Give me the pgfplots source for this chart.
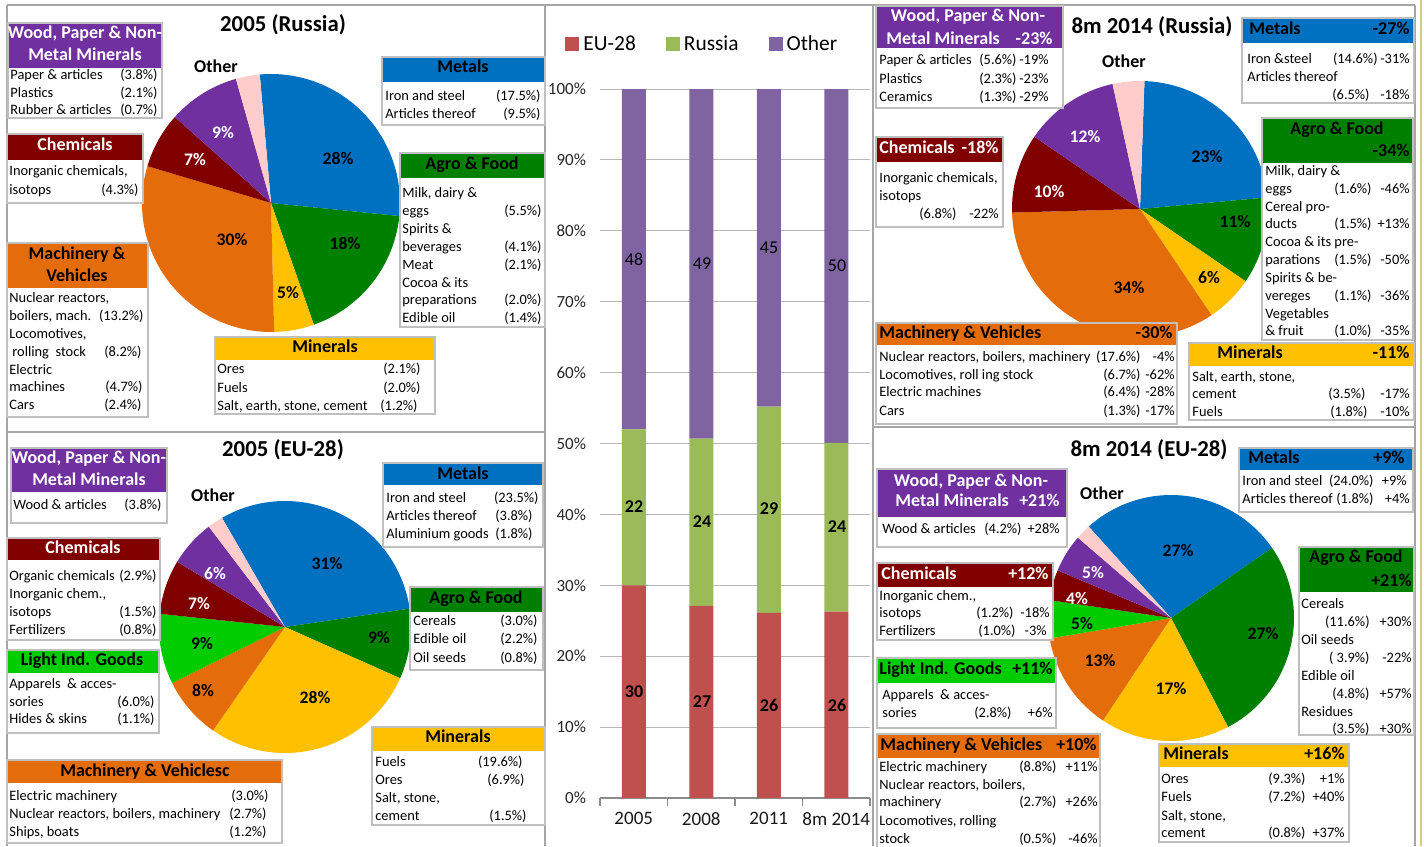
\documentclass[border=0pt]{standalone}
\usepackage{pgfplots}
\pgfplotsset{compat=1.18}
\usepackage{pgfplotstable}
\usepackage{fontspec}
\setmainfont{Carlito}
\definecolor{cMet}{HTML}{0070C0}
\definecolor{cAgro}{HTML}{008000}
\definecolor{cMin}{HTML}{FFC000}
\definecolor{cMach}{HTML}{E46C0A}
\definecolor{cChem}{HTML}{800000}
\definecolor{cWood}{HTML}{7030A0}
\definecolor{cOth}{HTML}{FFCCCC}
\definecolor{cLight}{HTML}{00CC00}
\definecolor{cEU}{HTML}{C0504D}
\definecolor{cRU}{HTML}{9BBB59}
\definecolor{cOT}{HTML}{8064A2}
\definecolor{bline}{HTML}{BFBFBF}
\definecolor{fline}{HTML}{A6A6A6}
\definecolor{oline}{HTML}{D2CF7A}

\pgfplotstableread{
x eu ru ot
0 30.0 22.0 48.0
1 27.1 23.6 49.3
2 26.1 29.1 44.8
3 26.3 23.8 49.9
}\bardata

\newcommand\startpie[1]{\xdef\runang{#1}}
\newcommand\slice[2]{%
  \pgfmathsetmacro\sA{\runang}%
  \pgfmathsetmacro\sB{\runang-(#2)*3.6}%
  \edef\doslice{\noexpand\addplot[fill=#1,draw=none,domain=\sB:\sA,samples=60] ({cos(x)},{sin(x)}) -- (axis cs:0,0) -- cycle;}%
  \doslice
  \xdef\runang{\sB}}
\pgfplotsset{pieax/.style={anchor=center, scale only axis, hide axis, xmin=-1,xmax=1,ymin=-1,ymax=1, clip=false}}

\tikzset{tx/.style={font=\fontsize{7.2}{9}\selectfont, inner sep=0pt, text height=5.2pt, text depth=1.6pt},
 hd/.style={font=\bfseries\fontsize{9}{11}\selectfont, inner sep=0pt, text height=6.4pt, text depth=1.9pt}}
\newcommand\HB[6]{\fill[white] (#2,#5) rectangle (#4,#6); \fill[#1] (#2,#3) rectangle (#4,#5); \draw[bline,line width=0.6pt] (#2,#3) rectangle (#4,#6);}
\newcommand\hC[4]{\node[hd,text=#3,anchor=center] at (#1,#2) {#4};}
\newcommand\hL[4]{\node[hd,text=#3,anchor=west] at (#1,#2) {#4};}
\newcommand\hR[4]{\node[hd,text=#3,anchor=east] at (#1,#2) {#4};}
\newcommand\tL[3]{\node[tx,anchor=west] at (#1,#2) {#3};}
\newcommand\tR[3]{\node[tx,anchor=east] at (#1,#2) {#3};}
\newcommand\pl[4]{\node[font=\bfseries\fontsize{8.8}{10}\selectfont,text=#3] at (#1,#2) {#4};}
\newcommand\bv[3]{\node[font=\bfseries\fontsize{9}{10}\selectfont] at (#1,#2) {#3};}
\newcommand\ov[3]{\node[font=\fontsize{9}{10}\selectfont] at (#1,#2) {#3};}
\newcommand\ttl[3]{\node[font=\bfseries\fontsize{11.4}{13}\selectfont] at (#1,#2) {#3};}
\newcommand\oth[2]{\node[font=\bfseries\fontsize{9}{10}\selectfont] at (#1,#2) {Other};}

\begin{document}
\begin{tikzpicture}
\path[use as bounding box] (0,0) rectangle (712pt,-423pt);

% ---------- bar chart ----------
\begin{axis}[at={(300pt,-399pt)}, anchor=south west, scale only axis, width=135pt, height=354.5pt,
 ybar stacked, bar width=12pt, xmin=-0.5, xmax=3.5, ymin=0, ymax=100,
 xtick={0,1,2,3}, xticklabels={2005,2008,2011,8m 2014},
 ytick={0,10,20,30,40,50,60,70,80,90,100},
 yticklabels={0\%,10\%,20\%,30\%,40\%,50\%,60\%,70\%,80\%,90\%,100\%},
 ymajorgrids, grid style={draw=gray!55, line width=0.5pt},
 axis x line*=bottom, axis y line*=left, y axis line style={draw=none},
 x axis line style={draw=gray!90, line width=0.6pt},
 xtick style={draw=none}, ytick style={draw=none},
 extra x ticks={-0.5,0.5,1.5,2.5,3.5}, extra x tick labels={},
 extra x tick style={grid=none, tick align=outside, major tick length=4pt, xtick style={draw=gray!90, line width=0.6pt}},
 yticklabel style={font=\fontsize{8.5}{10}\selectfont, text=black!85, xshift=-3.5pt},
 xticklabel style={font=\fontsize{9.5}{11}\selectfont, text=black!90, yshift=-3.5pt},
 legend style={at={(0.383,1.063)}, anchor=center, draw=none, fill=none, legend columns=3,
   font=\fontsize{10.7}{12}\selectfont, /tikz/every even column/.append style={column sep=13pt}},
 legend image code/.code={\draw[#1,/tikz/.cd,draw=none] (0pt,-3.5pt) rectangle (7pt,3.5pt);},
]
\addplot[fill=cEU, draw=none] table[x=x,y=eu]{\bardata};
\addplot[fill=cRU, draw=none] table[x=x,y=ru]{\bardata};
\addplot[fill=cOT, draw=none] table[x=x,y=ot]{\bardata};
\legend{EU-28,Russia,Other}
\end{axis}

% ---------- pies ----------
\begin{axis}[pieax, at={(135.5pt,-101.5pt)}, width=129pt, height=129pt]
\startpie{95}
\slice{cMet}{28}\slice{cAgro}{18}\slice{cMin}{5}\slice{cMach}{30}\slice{cChem}{7}\slice{cWood}{9}\slice{cOth}{3}
\end{axis}
\begin{axis}[pieax, at={(142.5pt,-313.5pt)}, width=126pt, height=126pt]
\startpie{120}
\slice{cMet}{31}\slice{cAgro}{9}\slice{cMin}{28}\slice{cMach}{8}\slice{cLight}{9}\slice{cChem}{7}\slice{cWood}{6}\slice{cOth}{2}
\end{axis}
\begin{axis}[pieax, at={(570pt,-104.5pt)}, width=128pt, height=128pt]
\startpie{88}
\slice{cMet}{23}\slice{cAgro}{11}\slice{cMin}{6}\slice{cMach}{34}\slice{cChem}{10}\slice{cWood}{12}\slice{cOth}{4}
\end{axis}
\begin{axis}[pieax, at={(585.5pt,-309pt)}, width=123pt, height=123pt]
\startpie{132}
\slice{cMet}{27}\slice{cAgro}{27}\slice{cMin}{17}\slice{cMach}{13}\slice{cLight}{5}\slice{cChem}{4}\slice{cWood}{5}\slice{cOth}{2}
\end{axis}

% ---------- annotations in pixel units ----------
\begin{scope}[x=0.5pt,y=-0.5pt]
% bar segment labels
\bv{634}{692}{30} \bv{702}{702}{27} \bv{769}{705}{26} \bv{837}{705}{26}
\bv{634}{507}{22} \bv{702}{522}{24} \bv{769}{509}{29} \bv{837}{527}{24}
\ov{634}{259}{48} \ov{702}{264}{49} \ov{769}{248}{45} \ov{837}{266}{50}

% frames
\draw[fline,line width=0.6pt] (7,5) -- (1415,5);
\draw[fline,line width=0.6pt] (7,5) -- (7,846);
\draw[fline,line width=0.6pt] (545,5) -- (545,846);
\draw[fline,line width=0.6pt] (7,432) -- (545,432);
\draw[fline,line width=0.6pt] (873,5) -- (873,846);
\draw[fline,line width=0.6pt] (1415,5) -- (1415,846);
\draw[fline,line width=0.6pt] (873,427) -- (1415,427);
\draw[oline,line width=1.2pt] (1421,0) -- (1421,846);

% pie labels
\pl{338}{158}{black}{28\%} \pl{345}{243}{black}{18\%} \pl{288}{293}{black}{5\%}
\pl{232}{240}{black}{30\%} \pl{195}{160}{white}{7\%} \pl{223}{133}{white}{9\%}
\pl{327}{563}{black}{31\%} \pl{379}{637}{black}{9\%} \pl{315}{697}{black}{28\%}
\pl{203}{690}{black}{8\%} \pl{202}{643}{black}{9\%} \pl{199}{603}{white}{7\%} \pl{215}{573}{white}{6\%}
\pl{1207}{157}{black}{23\%} \pl{1235}{222}{black}{11\%} \pl{1209}{278}{black}{6\%}
\pl{1129}{288}{black}{34\%} \pl{1049}{192}{white}{10\%} \pl{1085}{137}{white}{12\%}
\pl{1178}{550}{black}{27\%} \pl{1263}{633}{black}{27\%} \pl{1171}{688}{black}{17\%}
\pl{1100}{660}{black}{13\%} \pl{1082}{623}{black}{5\%} \pl{1077}{598}{white}{4\%} \pl{1093}{572}{white}{5\%}

% titles
\ttl{283}{25}{2005 (Russia)} \oth{216}{66}
\ttl{283}{450}{2005 (EU-28)} \oth{213}{495}
\ttl{1152}{27}{8m 2014 (Russia)} \oth{1124}{61}
\ttl{1149}{450}{8m 2014 (EU-28)} \oth{1102}{493}

% ===== TL =====
\HB{cWood}{8}{23}{162}{68}{118}
\hC{85}{34}{white}{Wood, Paper \& Non-}
\hC{85}{56}{white}{Metal Minerals}
\tL{10}{76}{Paper \& articles} \tR{158}{76}{(3.8\%)}
\tL{10}{94}{Plastics} \tR{158}{94}{(2.1\%)}
\tL{10}{111}{Rubber \& articles} \tR{158}{111}{(0.7\%)}

\HB{cChem}{7}{134}{143}{160}{203}
\hC{75}{146}{white}{Chemicals}
\tL{9}{172}{Inorganic chemicals,}
\tL{9}{191}{isotops} \tR{139}{191}{(4.3\%)}

\HB{cMach}{7}{243}{148}{288}{417}
\hC{77}{255}{black}{Machinery \&}
\hC{77}{277}{black}{Vehicles}
\tL{9}{299}{Nuclear reactors,}
\tL{9}{317}{boilers, mach.} \tR{144}{317}{(13.2\%)}
\tL{9}{335}{Locomotives,}
\tL{12}{353}{rolling\ \ stock} \tR{142}{353}{(8.2\%)}
\tL{9}{371}{Electric}
\tL{9}{388}{machines} \tR{143}{388}{(4.7\%)}
\tL{9}{406}{Cars} \tR{142}{406}{(2.4\%)}

\HB{cMet}{382}{57}{545}{82}{125}
\hC{463}{68}{black}{Metals}
\tL{385}{97}{Iron and steel} \tR{541}{97}{(17.5\%)}
\tL{385}{115}{Articles thereof} \tR{541}{115}{(9.5\%)}

\HB{cAgro}{400}{153}{545}{178}{327}
\hC{472}{165}{black}{Agro \& Food}
\tL{402}{194}{Milk, dairy \&}
\tL{402}{212}{eggs} \tR{542}{212}{(5.5\%)}
\tL{402}{230}{Spirits \&}
\tL{402}{248}{beverages} \tR{542}{248}{(4.1\%)}
\tL{402}{266}{Meat} \tR{542}{266}{(2.1\%)}
\tL{402}{284}{Cocoa \& its}
\tL{402}{301}{preparations} \tR{542}{301}{(2.0\%)}
\tL{402}{319}{Edible oil} \tR{542}{319}{(1.4\%)}

\HB{cMin}{215}{337}{435}{360}{414}
\hC{325}{348}{black}{Minerals}
\tL{217}{370}{Ores} \tR{421}{370}{(2.1\%)}
\tL{217}{389}{Fuels} \tR{421}{389}{(2.0\%)}
\tL{217}{407}{Salt, earth, stone, cement} \tR{418}{407}{(1.2\%)}

% ===== BL =====
\HB{cWood}{11}{448}{167}{492}{523}
\hC{89}{459}{white}{Wood, Paper \& Non-}
\hC{89}{481}{white}{Metal Minerals}
\tL{13}{506}{Wood \& articles} \tR{162}{506}{(3.8\%)}

\HB{cChem}{7}{538}{160}{560}{640}
\hC{83}{549}{white}{Chemicals}
\tL{9}{577}{Organic chemicals} \tR{157}{577}{(2.9\%)}
\tL{9}{595}{Inorganic chem.,}
\tL{9}{613}{isotops} \tR{157}{613}{(1.5\%)}
\tL{9}{631}{Fertilizers} \tR{157}{631}{(0.8\%)}

\HB{cLight}{7}{650}{159}{673}{733}
\hC{82}{661}{black}{Light Ind. Goods}
\tL{9}{685}{Apparels\ \ \& acces-}
\tL{9}{703}{sories} \tR{155}{703}{(6.0\%)}
\tL{9}{720}{Hides \& skins} \tR{155}{720}{(1.1\%)}

\HB{cMach}{7}{760}{282}{783}{843}
\hC{145}{772}{black}{Machinery \& Vehiclesc}
\tL{9}{797}{Electric machinery} \tR{269}{797}{(3.0\%)}
\tL{9}{815}{Nuclear reactors, boilers, machinery} \tR{267}{815}{(2.7\%)}
\tL{9}{833}{Ships, boats} \tR{267}{833}{(1.2\%)}

\HB{cMet}{383}{463}{543}{485}{547}
\hC{463}{475}{black}{Metals}
\tL{386}{499}{Iron and steel} \tR{539}{499}{(23.5\%)}
\tL{386}{517}{Articles thereof} \tR{533}{517}{(3.8\%)}
\tL{386}{535}{Aluminium goods} \tR{533}{535}{(1.8\%)}

\HB{cAgro}{410}{587}{543}{612}{670}
\hC{476}{599}{black}{Agro \& Food}
\tL{413}{622}{Cereals} \tR{538}{622}{(3.0\%)}
\tL{413}{640}{Edible oil} \tR{538}{640}{(2.2\%)}
\tL{413}{659}{Oil seeds} \tR{538}{659}{(0.8\%)}

\HB{cMin}{372}{727}{545}{751}{825}
\hC{458}{738}{black}{Minerals}
\tL{375}{763}{Fuels} \tR{523}{763}{(19.6\%)}
\tL{375}{781}{Ores} \tR{525}{781}{(6.9\%)}
\tL{375}{799}{Salt, stone,}
\tL{375}{817}{cement} \tR{527}{817}{(1.5\%)}

% ===== TR =====
\HB{cWood}{876}{6}{1063}{48}{108}
\hC{968}{17}{white}{Wood, Paper \& Non-}
\hL{886}{40}{white}{Metal Minerals} \hR{1053}{40}{white}{-23\%}
\tL{879}{61}{Paper \& articles} \tR{1017}{61}{(5.6\%)} \tR{1049}{61}{-19\%}
\tL{879}{80}{Plastics} \tR{1017}{80}{(2.3\%)} \tR{1049}{80}{-23\%}
\tL{879}{98}{Ceramics} \tR{1017}{98}{(1.3\%)} \tR{1049}{98}{-29\%}

\HB{cMet}{1242}{18}{1414}{43}{103}
\hL{1249}{30}{black}{Metals} \hR{1410}{30}{black}{-27\%}
\tL{1247}{60}{Iron \&steel} \tR{1378}{60}{(14.6\%)} \tR{1410}{60}{-31\%}
\tL{1247}{78}{Articles thereof}
\tR{1370}{96}{(6.5\%)} \tR{1410}{96}{-18\%}

\HB{cChem}{876}{137}{1003}{162}{227}
\hL{879}{149}{white}{Chemicals} \hR{999}{149}{white}{-18\%}
\tL{879}{179}{Inorganic chemicals,}
\tL{879}{197}{isotops}
\tR{957}{215}{(6.8\%)} \tR{999}{215}{-22\%}

\HB{cAgro}{1262}{118}{1413}{163}{340}
\hC{1337}{130}{black}{Agro \& Food} \hR{1410}{152}{black}{-34\%}
\tL{1265}{172}{Milk, dairy \&}
\tL{1265}{190}{eggs} \tR{1372}{190}{(1.6\%)} \tR{1410}{190}{-46\%}
\tL{1265}{208}{Cereal pro-}
\tL{1265}{225}{ducts} \tR{1372}{225}{(1.5\%)} \tR{1410}{225}{+13\%}
\tL{1265}{243}{Cocoa \& its pre-}
\tL{1265}{261}{parations} \tR{1372}{261}{(1.5\%)} \tR{1410}{261}{-50\%}
\tL{1265}{279}{Spirits \& be-}
\tL{1265}{297}{vereges} \tR{1372}{297}{(1.1\%)} \tR{1410}{297}{-36\%}
\tL{1265}{315}{Vegetables}
\tL{1265}{332}{\& fruit} \tR{1372}{332}{(1.0\%)} \tR{1410}{332}{-35\%}

\HB{cMach}{876}{323}{1177}{345}{424}
\hL{879}{334}{black}{Machinery \& Vehicles} \hR{1173}{334}{black}{-30\%}
\tL{879}{358}{Nuclear reactors, boilers, machinery} \tR{1141}{358}{(17.6\%)} \tR{1175}{358}{-4\%}
\tL{879}{376}{Locomotives, roll ing stock} \tR{1141}{376}{(6.7\%)} \tR{1175}{376}{-62\%}
\tL{879}{393}{Electric machines} \tR{1141}{393}{(6.4\%)} \tR{1175}{393}{-28\%}
\tL{879}{412}{Cars} \tR{1141}{412}{(1.3\%)} \tR{1175}{412}{-17\%}

\HB{cMin}{1189}{343}{1414}{366}{420}
\hL{1217}{354}{black}{Minerals} \hR{1410}{354}{black}{-11\%}
\tL{1192}{378}{Salt, earth, stone,}
\tL{1192}{395}{cement} \tR{1366}{395}{(3.5\%)} \tR{1410}{395}{-17\%}
\tL{1192}{413}{Fuels} \tR{1368}{413}{(1.8\%)} \tR{1410}{413}{-10\%}

% ===== BR =====
\HB{cMet}{1239}{448}{1413}{470}{512}
\hL{1248}{459}{black}{Metals} \hR{1405}{459}{black}{+9\%}
\tL{1242}{482}{Iron and steel} \tR{1374}{482}{(24.0\%)} \tR{1407}{482}{+9\%}
\tL{1242}{500}{Articles thereof} \tR{1374}{500}{(1.8\%)} \tR{1410}{500}{+4\%}

\HB{cWood}{877}{469}{1067}{517}{547}
\hC{971}{482}{white}{Wood, Paper \& Non-}
\hL{895}{502}{white}{Metal Minerals} \hR{1060}{502}{white}{+21\%}
\tL{882}{530}{Wood \& articles} \tR{1022}{530}{(4.2\%)} \tR{1060}{530}{+28\%}

\HB{cChem}{877}{563}{1053}{587}{640}
\hL{881}{575}{white}{Chemicals} \hR{1049}{575}{white}{+12\%}
\tL{879}{597}{Inorganic chem.,}
\tL{879}{614}{isotops} \tR{1014}{614}{(1.2\%)} \tR{1050}{614}{-18\%}
\tL{879}{632}{Fertilizers} \tR{1016}{632}{(1.0\%)} \tR{1047}{632}{-3\%}

\HB{cAgro}{1299}{547}{1414}{592}{735}
\hC{1356}{558}{black}{Agro \& Food} \hR{1412}{582}{black}{+21\%}
\tL{1301}{605}{Cereals}
\tR{1370}{623}{(11.6\%)} \tR{1412}{623}{+30\%}
\tL{1301}{641}{Oil seeds}
\tR{1370}{659}{( 3.9\%)} \tR{1412}{659}{-22\%}
\tL{1301}{677}{Edible oil}
\tR{1370}{695}{(4.8\%)} \tR{1412}{695}{+57\%}
\tL{1301}{713}{Residues}
\tR{1370}{730}{(3.5\%)} \tR{1412}{730}{+30\%}

\HB{cLight}{877}{658}{1056}{683}{728}
\hL{879}{670}{black}{Light Ind. Goods} \hR{1053}{670}{black}{+11\%}
\tL{882}{696}{Apparels\ \ \& acces-}
\tL{882}{714}{sories} \tR{1012}{714}{(2.8\%)} \tR{1053}{714}{+6\%}

\HB{cMach}{877}{734}{1100}{758}{850}
\hL{880}{746}{black}{Machinery \& Vehicles} \hR{1097}{746}{black}{+10\%}
\tL{879}{768}{Electric machinery} \tR{1057}{768}{(8.8\%)} \tR{1098}{768}{+11\%}
\tL{879}{786}{Nuclear reactors, boilers,}
\tL{879}{803}{machinery} \tR{1057}{803}{(2.7\%)} \tR{1098}{803}{+26\%}
\tL{879}{822}{Locomotives, rolling}
\tL{879}{840}{stock} \tR{1057}{840}{(0.5\%)} \tR{1098}{840}{-46\%}

\HB{cMin}{1159}{744}{1349}{767}{842}
\hL{1163}{755}{black}{Minerals} \hR{1345}{755}{black}{+16\%}
\tL{1161}{780}{Ores} \tR{1306}{780}{(9.3\%)} \tR{1345}{780}{+1\%}
\tL{1161}{798}{Fuels} \tR{1306}{798}{(7.2\%)} \tR{1345}{798}{+40\%}
\tL{1161}{817}{Salt, stone,}
\tL{1161}{834}{cement} \tR{1306}{834}{(0.8\%)} \tR{1345}{834}{+37\%}
\end{scope}
\end{tikzpicture}
\end{document}
